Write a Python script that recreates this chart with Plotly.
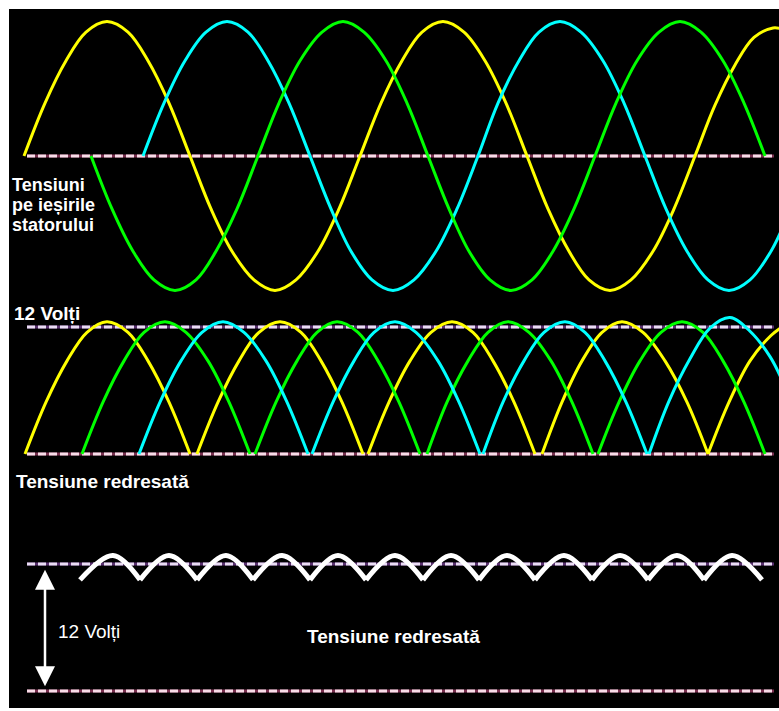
import plotly.graph_objects as go

# ---------------- data ----------------
# time axis in picture units (shared by all panels), voltages in volts
# Top panel: stator phase voltages
yel_t = [24, 45, 66, 86, 107, 128, 148, 169, 190, 211, 232, 254, 275, 296, 318, 339, 360,
         381, 402, 422, 443, 464, 485, 506, 527, 548, 569, 589, 610, 631, 653, 674, 695,
         715, 735, 754, 773, 782]
yel_v = [0, 5.0, 9.0, 11.7, 12.7, 11.7, 9.0, 5.0, 0, -5.0, -9.0, -11.7, -12.7, -11.7, -9.0, -5.0, 0,
         5.0, 9.0, 11.7, 12.7, 11.7, 9.0, 5.0, 0, -5.0, -9.0, -11.7, -12.7, -11.7, -9.0, -5.0, 0,
         4.8, 8.6, 11.2, 12.1, 12.0]

grn_t = [91, 112, 133, 154, 175, 196, 216, 237, 258, 279, 300, 322, 343, 364, 386, 407, 428,
         449, 469, 490, 511, 532, 553, 574, 595, 616, 637, 659, 680, 701, 723, 744, 765]
grn_v = [0, -5.0, -9.0, -11.7, -12.7, -11.7, -9.0, -5.0, 0, 5.0, 9.0, 11.7, 12.7, 11.7, 9.0, 5.0, 0,
         -5.0, -9.0, -11.7, -12.7, -11.7, -9.0, -5.0, 0, 5.0, 9.0, 11.7, 12.7, 11.7, 9.0, 5.0, 0]

cyn_t = [143, 164, 185, 206, 227, 248, 268, 289, 310, 331, 351, 372, 393, 414, 436, 457, 478,
         498, 519, 539, 560, 581, 603, 624, 645, 666, 687, 708, 729, 750, 771, 782]
cyn_v = [0, 5.0, 9.0, 11.7, 12.7, 11.7, 9.0, 5.0, 0, -5.0, -9.0, -11.7, -12.7, -11.7, -9.0, -5.0, 0,
         5.0, 9.0, 11.7, 12.7, 11.7, 9.0, 5.0, 0, -5.0, -9.0, -11.7, -12.7, -11.7, -9.0, -6.9]

# Middle panel: rectified half-waves (one list per arch)
yel_arch_t = [[25, 46, 67, 87, 107, 128, 148, 169, 190],
              [197, 218, 239, 259, 280, 301, 321, 342, 363],
              [368, 389, 410, 431, 452, 473, 493, 514, 535],
              [542, 562, 582, 602, 622, 643, 665, 687, 708],
              [708, 729, 750, 771, 782]]
yel_arch_v = [[0, 4.9, 8.8, 11.5, 12.5, 11.5, 8.8, 4.9, 0],
              [0, 4.9, 8.8, 11.5, 12.5, 11.5, 8.8, 4.9, 0],
              [0, 4.9, 8.8, 11.5, 12.5, 11.5, 8.8, 4.9, 0],
              [0, 4.9, 8.8, 11.5, 12.5, 11.5, 8.8, 4.9, 0],
              [0, 4.9, 8.8, 11.2, 12.0]]
grn_arch_t = [[82, 103, 124, 144, 165, 186, 208, 229, 250],
              [255, 276, 297, 317, 337, 358, 378, 399, 420],
              [427, 447, 468, 488, 508, 529, 551, 572, 593],
              [598, 619, 640, 661, 682, 703, 723, 744, 765]]
grn_arch_v = [[0, 4.9, 8.8, 11.5, 12.5, 11.5, 8.8, 4.9, 0],
              [0, 4.9, 8.8, 11.5, 12.5, 11.5, 8.8, 4.9, 0],
              [0, 4.9, 8.8, 11.5, 12.5, 11.5, 8.8, 4.9, 0],
              [0, 4.9, 8.8, 11.5, 12.5, 11.5, 8.8, 4.9, 0]]
cyn_arch_t = [[139, 160, 181, 202, 223, 244, 266, 287, 308],
              [312, 333, 354, 374, 395, 416, 438, 459, 480],
              [483, 503, 524, 544, 565, 585, 605, 626, 647],
              [649, 669, 690, 710, 730, 750, 770, 782]]
cyn_arch_v = [[0, 4.9, 8.8, 11.5, 12.5, 11.5, 8.8, 4.9, 0],
              [0, 4.9, 8.8, 11.5, 12.5, 11.5, 8.8, 4.9, 0],
              [0, 4.9, 8.8, 11.5, 12.5, 11.5, 8.8, 4.9, 0],
              [0, 5.0, 9.0, 11.9, 12.9, 11.6, 9.2, 7.0]]

# Bottom panel: DC output ripple
rip_peak_t = [113, 169, 226, 282, 338, 395, 451, 507, 564, 620, 677, 732]
rip_trough_t = [80, 140, 197, 253, 310, 366, 423, 479, 535, 592, 648, 704, 762]
rip_peak_v = 12.8
rip_trough_v = 10.5

ref_levels = [0, 12]          # volts (dashed reference lines)
ref_t = [27, 774]

labels_top = ["Tensiuni", "pe ieșirile", "statorului"]
label_12v = "12 Volți"
label_rect = "Tensiune redresată"

# ---------------- layout helpers ----------------
W, H = 779, 711
k = 127 / 12.0            # px per volt
base_top, base_mid, base_bot = 156, 454, 691

def yrange(base):
    return [(base - H) / k, base / k]

YEL, GRN, CYN = "#ffff00", "#00ff00", "#00ffff"

fig = go.Figure()

def dash_line(level, axis, light, dark):
    fig.add_trace(go.Scatter(x=ref_t, y=[level, level], yaxis=axis, mode="lines",
                             line=dict(color=dark, width=3), hoverinfo="skip", showlegend=False))
    fig.add_trace(go.Scatter(x=ref_t, y=[level, level], yaxis=axis, mode="lines",
                             line=dict(color=light, width=3, dash="8px,3px"),
                             hoverinfo="skip", showlegend=False))

PINK, PINKD = "#f8dce8", "#7a3050"
LAV, LAVD = "#eadcf4", "#5a3070"

# top panel
dash_line(0, "y", PINK, PINKD)
for t, v, c in [(yel_t, yel_v, YEL), (cyn_t, cyn_v, CYN), (grn_t, grn_v, GRN)]:
    fig.add_trace(go.Scatter(x=t, y=v, yaxis="y", mode="lines",
                             line=dict(color=c, width=3, shape="spline", smoothing=1.0),
                             hoverinfo="skip", showlegend=False))

# middle panel
dash_line(ref_levels[1], "y2", LAV, LAVD)
dash_line(ref_levels[0], "y2", PINK, PINKD)

def join(segs_t, segs_v):
    xs, ys = [], []
    for a, b in zip(segs_t, segs_v):
        xs += a + [None]
        ys += b + [None]
    return xs, ys

for st, sv, c in [(yel_arch_t, yel_arch_v, YEL), (grn_arch_t, grn_arch_v, GRN),
                  (cyn_arch_t, cyn_arch_v, CYN)]:
    xs, ys = join(st, sv)
    fig.add_trace(go.Scatter(x=xs, y=ys, yaxis="y2", mode="lines", connectgaps=False,
                             line=dict(color=c, width=3, shape="spline", smoothing=1.0),
                             hoverinfo="skip", showlegend=False))

# bottom panel
dash_line(ref_levels[1], "y3", LAV, LAVD)
dash_line(ref_levels[0], "y3", PINK, PINKD)
rx, ry = [], []
for i, p in enumerate(rip_peak_t):
    rx += [rip_trough_t[i], p, rip_trough_t[i + 1], None]
    ry += [rip_trough_v, rip_peak_v, rip_trough_v, None]
fig.add_trace(go.Scatter(x=rx, y=ry, yaxis="y3", mode="lines", connectgaps=False,
                         line=dict(color="white", width=5, shape="spline", smoothing=1.0),
                         hoverinfo="skip", showlegend=False))

FONT = "Liberation Sans, Arial, Helvetica, sans-serif"

def label(text, px, py, size=19, bold=True):
    fig.add_annotation(xref="paper", yref="paper", x=px / W, y=1 - py / H,
                       xanchor="left", yanchor="middle", showarrow=False,
                       text=f"<b>{text}</b>" if bold else text,
                       font=dict(family=FONT, size=size, color="white"))

for i, s in enumerate(labels_top):
    label(s, 10, 185 + 20 * i, size=18)
label(label_12v, 12, 313)
label(label_rect, 14, 481)
label(label_rect, 305, 636)
label(label_12v, 56, 631, size=19, bold=False)

# double arrow (12 V span)
fig.add_annotation(x=45, y=11.45, ax=45, ay=0.3, xref="x", yref="y3", axref="x", ayref="y3",
                   text="", showarrow=True, arrowhead=2, startarrowhead=2,
                   arrowside="end+start", arrowsize=1.6, startarrowsize=1.6,
                   arrowwidth=2.5, arrowcolor="white", standoff=0, startstandoff=0)

fig.update_layout(
    width=W, height=H, autosize=False,
    margin=dict(l=0, r=0, t=0, b=0),
    paper_bgcolor="white", plot_bgcolor="rgba(0,0,0,0)",
    showlegend=False,
    xaxis=dict(range=[0, W], visible=False, fixedrange=True, domain=[0, 1]),
    yaxis=dict(range=yrange(base_top), visible=False, fixedrange=True, domain=[0, 1]),
    yaxis2=dict(range=yrange(base_mid), visible=False, fixedrange=True, overlaying="y"),
    yaxis3=dict(range=yrange(base_bot), visible=False, fixedrange=True, overlaying="y"),
    shapes=[dict(type="rect", xref="paper", yref="paper", x0=9 / W, x1=1,
                 y0=1 - 708 / H, y1=1 - 9 / H, fillcolor="black", line=dict(width=0),
                 layer="below")],
)

fig.write_html("out.html", config={"displayModeBar": False},
               post_script="document.body.style.margin='0';document.body.style.overflow='hidden';")
